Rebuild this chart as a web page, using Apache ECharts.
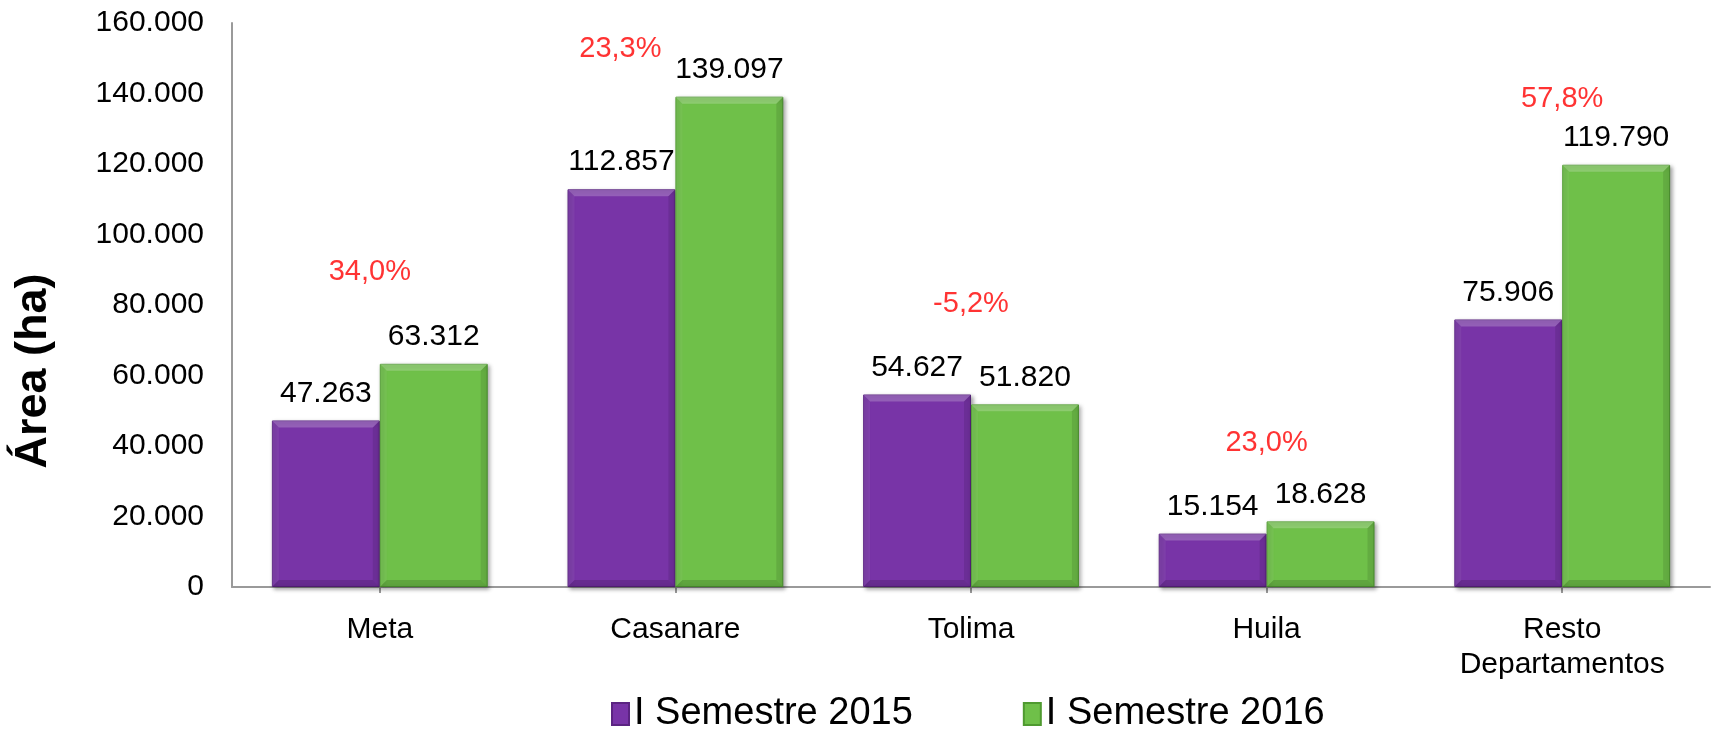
<!doctype html>
<html>
<head>
    <meta charset="UTF-8">
    <title>Área (ha) - I Semestre 2015 / 2016</title>
    <script src="https://cdn.jsdelivr.net/npm/echarts@6/dist/echarts.min.js"></script>
    <style>
        html, body { margin: 0; padding: 0; background: #fff; }
    </style>
</head>
<body>
<div id="main" style="width: 1720px;height:735px;"></div>
<script type="text/javascript">
    // datos del gráfico
    var categorias = ['Meta', 'Casanare', 'Tolima', 'Huila', 'Resto\nDepartamentos'];
    var semestre2015 = [47263, 112857, 54627, 15154, 75906];
    var semestre2016 = [63312, 139097, 51820, 18628, 119790];
    var variacion = ['34,0%', '23,3%', '-5,2%', '23,0%', '57,8%'];
    // altura (ha) donde va escrita la variación
    var variacionAltura = [89400, 152500, 80300, 40800, 138500];
    var ticksY = [0, 20000, 40000, 60000, 80000, 100000, 120000, 140000, 160000];

    var fuente = 'Liberation Sans, Arial, sans-serif';
    var huecoCategoria = 0.27;

    function miles(v) {
        return String(v).replace(/\B(?=(\d{3})+(?!\d))/g, '.');
    }

    var myChart = echarts.init(document.getElementById('main'));

    var etiquetaValor = {
        show: true,
        position: 'top',
        distance: 12,
        color: '#000',
        fontSize: 30,
        fontFamily: fuente,
        formatter: function (p) { return miles(p.value); }
    };

    // biselado de las barras (efecto 3D de Excel)
    function bisel(x, yTop, yBot, w) {
        var b = Math.min(7, (yBot - yTop) / 2, w / 2);
        var x2 = x + w;
        return [
            { type: 'polygon', shape: { points: [[x, yTop], [x2, yTop], [x2 - b, yTop + b], [x + b, yTop + b]] },
              style: { fill: 'rgba(255,255,255,0.22)' } },
            { type: 'polygon', shape: { points: [[x, yTop], [x + b, yTop + b], [x + b, yBot - b], [x, yBot]] },
              style: { fill: 'rgba(255,255,255,0.06)' } },
            { type: 'polygon', shape: { points: [[x2, yTop], [x2, yBot], [x2 - b, yBot - b], [x2 - b, yTop + b]] },
              style: { fill: 'rgba(0,0,0,0.1)' } },
            { type: 'polygon', shape: { points: [[x, yBot], [x + b, yBot - b], [x2 - b, yBot - b], [x2, yBot]] },
              style: { fill: 'rgba(0,0,0,0.14)' } }
        ];
    }

    var option = {
        backgroundColor: '#fff',
        animation: false,
        grid: {
            left: 232,
            right: 10,
            top: 23,
            bottom: 148
        },
        legend: {
            left: 606,
            top: 690,
            itemGap: 110,
            itemWidth: 17,
            itemHeight: 22,
            icon: 'rect',
            data: ['I Semestre 2015', 'I Semestre 2016'],
            textStyle: {
                color: '#000',
                fontSize: 38,
                fontFamily: fuente
            }
        },
        xAxis: {
            type: 'category',
            data: categorias,
            axisLine: { lineStyle: { color: '#9a9a9a', width: 2 } },
            axisTick: { show: true, alignWithLabel: true, length: 6, lineStyle: { color: '#9a9a9a', width: 2 } },
            axisLabel: {
                color: '#000',
                fontSize: 30,
                lineHeight: 35,
                margin: 25,
                fontFamily: fuente
            }
        },
        yAxis: {
            type: 'value',
            min: 0,
            max: ticksY[ticksY.length - 1],
            interval: ticksY[1] - ticksY[0],
            name: 'Área (ha)',
            nameLocation: 'middle',
            nameGap: 176,
            nameTextStyle: {
                color: '#000',
                fontSize: 45,
                fontWeight: 'bold',
                fontFamily: fuente,
                padding: [0, 132, 0, 0]
            },
            splitLine: { show: false },
            axisTick: { show: false },
            axisLine: { show: true, lineStyle: { color: '#9a9a9a', width: 2 } },
            axisLabel: {
                color: '#000',
                fontSize: 30,
                margin: 28,
                fontFamily: fuente,
                formatter: function (v) { return miles(v); }
            }
        },
        series: [{
            name: 'I Semestre 2015',
            type: 'bar',
            data: semestre2015,
            barGap: '0%',
            barCategoryGap: (huecoCategoria * 100) + '%',
            itemStyle: {
                color: '#7834a7',
                borderColor: '#5b2482',
                borderWidth: 1,
                shadowColor: 'rgba(0,0,0,0.35)',
                shadowBlur: 4,
                shadowOffsetX: 2,
                shadowOffsetY: 2
            },
            label: etiquetaValor
        }, {
            name: 'I Semestre 2016',
            type: 'bar',
            data: semestre2016,
            itemStyle: {
                color: '#6fc049',
                borderColor: '#4f9a30',
                borderWidth: 1,
                shadowColor: 'rgba(0,0,0,0.35)',
                shadowBlur: 4,
                shadowOffsetX: 2,
                shadowOffsetY: 2
            },
            label: etiquetaValor
        }, {
            name: 'bisel',
            type: 'custom',
            silent: true,
            z: 3,
            data: categorias.map(function (c, i) { return [i, semestre2015[i], semestre2016[i]]; }),
            renderItem: function (params, api) {
                var i = api.value(0);
                var base = api.coord([i, 0]);
                var banda = api.size([1, 0])[0];
                var w = banda * (1 - huecoCategoria) / 2;
                var yA = api.coord([i, api.value(1)])[1];
                var yB = api.coord([i, api.value(2)])[1];
                return {
                    type: 'group',
                    children: bisel(base[0] - w, yA, base[1], w).concat(bisel(base[0], yB, base[1], w))
                };
            }
        }, {
            name: 'variacion',
            type: 'scatter',
            symbolSize: 0,
            silent: true,
            data: variacionAltura.map(function (v, i) {
                return {
                    value: v,
                    label: { offset: i === 1 ? [-55, 0] : (i === 0 ? [-10, 0] : [0, 0]) }
                };
            }),
            label: {
                show: true,
                position: 'inside',
                color: '#ff0000',
                fontSize: 29,
                fontFamily: fuente,
                formatter: function (p) { return variacion[p.dataIndex]; }
            }
        }]
    };
    myChart.setOption(option);
</script>
</body>
</html>
